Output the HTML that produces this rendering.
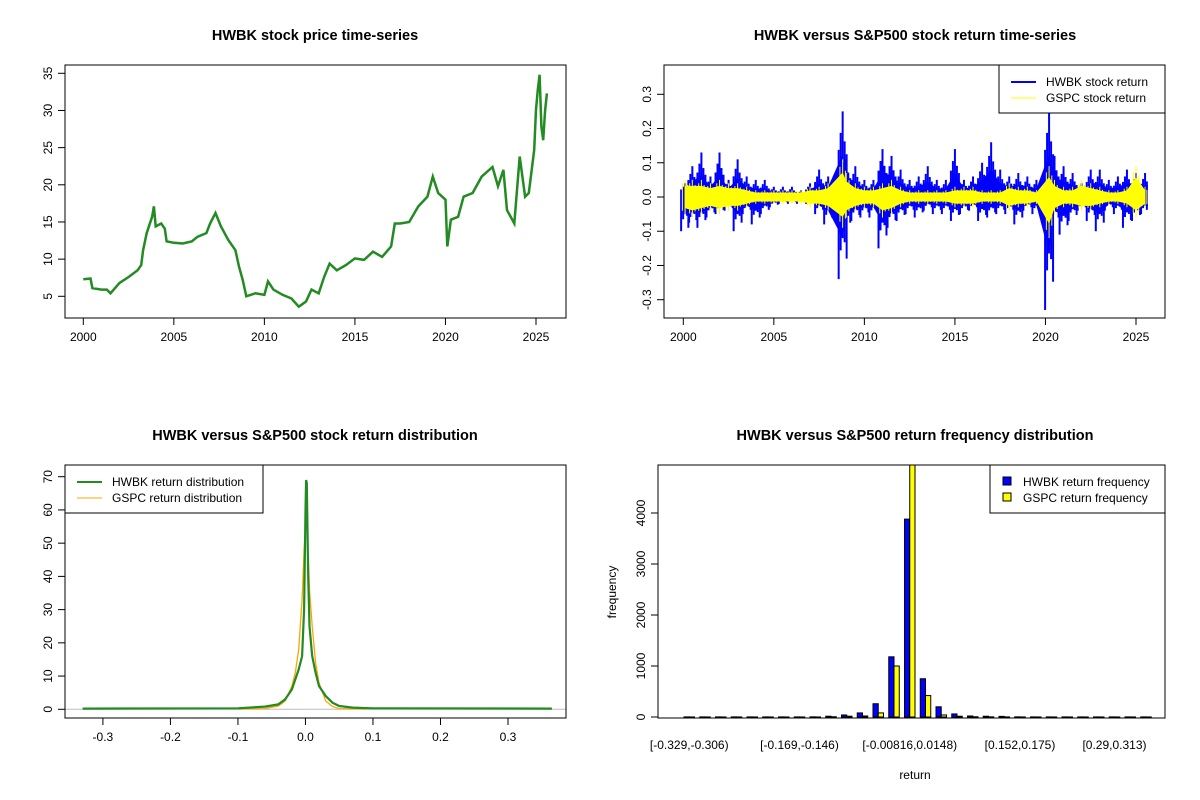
<!DOCTYPE html>
<html><head><meta charset="utf-8"><style>
html,body{margin:0;padding:0;background:#fff;}
svg{display:block;font-family:"Liberation Sans",Arial,sans-serif;}
</style></head><body>
<svg id="s" width="1200" height="800" viewBox="0 0 1200 800" xmlns="http://www.w3.org/2000/svg"></svg>
<script>
// ---------- data ----------
const priceYears=[2000,2000.4,2000.5,2001,2001.3,2001.5,2002,2002.5,2003,2003.2,2003.3,2003.5,2003.8,2003.9,2004,2004.3,2004.5,2004.6,2005,2005.5,2006,2006.3,2006.8,2007,2007.3,2007.6,2008,2008.4,2008.6,2008.8,2009,2009.5,2010,2010.2,2010.5,2011,2011.5,2011.9,2012.3,2012.6,2013,2013.3,2013.6,2014,2014.5,2015,2015.5,2016,2016.5,2017,2017.2,2017.5,2018,2018.5,2019,2019.3,2019.6,2020,2020.1,2020.3,2020.7,2021,2021.5,2022,2022.6,2022.9,2023.2,2023.4,2023.8,2024.1,2024.4,2024.6,2024.9,2025.0,2025.1,2025.2,2025.3,2025.4,2025.5,2025.6];
const priceValues=[7.3,7.4,6.1,5.9,5.9,5.4,6.8,7.6,8.5,9.2,11.2,13.5,15.7,17.1,14.4,14.8,14.1,12.4,12.2,12.1,12.4,13,13.5,14.8,16.2,14.4,12.6,11.2,9.0,7.2,5.0,5.4,5.2,7.0,5.9,5.2,4.7,3.6,4.3,5.9,5.4,7.6,9.4,8.5,9.2,10.1,9.9,11,10.3,11.7,14.8,14.8,15,17.1,18.4,21.1,18.9,18,11.7,15.3,15.7,18.4,18.9,21.1,22.4,19.8,22.0,16.6,14.8,23.8,18.4,18.9,24.7,30.1,32.8,34.8,27.8,26,30,32.3];
const retTimes=[2000.1,2000.5,2001,2001.5,2002,2002.5,2003,2003.5,2004,2004.5,2005,2005.5,2006,2006.5,2007,2007.5,2008,2008.8,2009,2009.5,2010,2010.5,2011,2011.5,2012,2012.5,2013,2013.5,2014,2014.5,2015,2015.5,2016,2016.5,2017,2017.5,2018,2018.5,2019,2019.5,2020.2,2020.5,2021,2021.5,2022,2022.5,2023,2023.5,2024,2024.5,2025,2025.5];
const hwbkUp=[0.04,0.09,0.13,0.06,0.13,0.05,0.11,0.06,0.05,0.05,0.03,0.03,0.03,0.02,0.04,0.08,0.06,0.25,0.11,0.09,0.05,0.05,0.14,0.12,0.08,0.05,0.06,0.09,0.05,0.05,0.14,0.05,0.06,0.1,0.16,0.08,0.06,0.07,0.06,0.05,0.25,0.12,0.09,0.07,0.04,0.08,0.08,0.05,0.06,0.08,0.07,0.07];
const hwbkDn=[-0.1,-0.09,-0.09,-0.06,-0.05,-0.04,-0.1,-0.05,-0.08,-0.05,-0.03,-0.02,-0.02,-0.02,-0.02,-0.05,-0.08,-0.24,-0.1,-0.07,-0.06,-0.06,-0.15,-0.09,-0.07,-0.05,-0.06,-0.04,-0.05,-0.05,-0.07,-0.05,-0.04,-0.07,-0.06,-0.05,-0.05,-0.08,-0.04,-0.05,-0.33,-0.08,-0.11,-0.07,-0.04,-0.07,-0.1,-0.04,-0.05,-0.09,-0.07,-0.05];
const gspcUp=[0.05,0.05,0.05,0.04,0.05,0.04,0.04,0.03,0.02,0.02,0.02,0.02,0.02,0.02,0.03,0.03,0.04,0.11,0.07,0.04,0.03,0.03,0.04,0.05,0.03,0.02,0.02,0.02,0.02,0.02,0.03,0.03,0.03,0.02,0.02,0.02,0.04,0.03,0.03,0.02,0.09,0.05,0.03,0.03,0.05,0.04,0.03,0.02,0.02,0.03,0.09,0.03];
const gspcDn=[-0.05,-0.06,-0.05,-0.04,-0.05,-0.04,-0.04,-0.03,-0.02,-0.02,-0.02,-0.02,-0.02,-0.02,-0.03,-0.03,-0.04,-0.09,-0.06,-0.04,-0.03,-0.03,-0.06,-0.05,-0.03,-0.02,-0.02,-0.02,-0.02,-0.02,-0.03,-0.03,-0.03,-0.02,-0.02,-0.02,-0.04,-0.03,-0.03,-0.02,-0.12,-0.05,-0.03,-0.03,-0.04,-0.04,-0.03,-0.02,-0.02,-0.03,-0.06,-0.03];
const hwbkDensX=[-0.33,-0.1,-0.06,-0.04,-0.03,-0.02,-0.015,-0.01,-0.005,-0.002,0,0.001,0.002,0.004,0.006,0.01,0.015,0.02,0.03,0.04,0.05,0.07,0.1,0.365];
const hwbkDensY=[0.2,0.3,0.8,1.5,3,6,9,12,16,30,60,69,68,40,25,16,11,7,4,2,1,0.5,0.3,0.2];
const gspcDensX=[-0.1,-0.06,-0.04,-0.03,-0.02,-0.015,-0.01,-0.005,-0.002,0,0.001,0.003,0.006,0.01,0.015,0.02,0.03,0.04,0.05,0.09];
const gspcDensY=[0.1,0.2,1,2.5,7,11,18,33,48,55,57,52,36,25,14,8,2.5,0.8,0.2,0.1];
const histLabels=["[-0.329,-0.306)","[-0.169,-0.146)","[-0.00816,0.0148)","[0.152,0.175)","[0.29,0.313)"];
const histLabelIdx=[0,7,14,21,27];
const hwbkFreq=[2,2,2,2,2,2,2,2,3,15,40,80,260,1180,3880,750,200,60,20,15,12,3,2,2,2,2,2,2,2,2];
const gspcFreq=[1,1,1,1,1,1,1,1,1,5,15,20,80,1000,5200,420,40,15,5,3,2,1,1,1,1,1,1,1,1,1];

// ---------- helpers ----------
const NS="http://www.w3.org/2000/svg";
const svg=document.getElementById('s');
function mk(tag,attrs,parent,text){const e=document.createElementNS(NS,tag);for(const k in attrs)e.setAttribute(k,attrs[k]);if(text!==undefined)e.textContent=text;(parent||svg).appendChild(e);return e;}
function lin(d0,d1,r0,r1){return v=>r0+(v-d0)*(r1-r0)/(d1-d0);}
function frame(x0,y0,x1,y1,name){const r=mk('rect',{x:x0,y:y0,width:x1-x0,height:y1-y0,fill:'none',stroke:'#000','stroke-width':1});}
function title(x,y,t,name){const e=mk('text',{x:x,y:y,'text-anchor':'middle','font-size':'14.5','font-weight':'bold'},svg,t);}
function xTicks(vals,labels,sx,yb,name){const g=mk('g',{});
 mk('line',{x1:sx(vals[0]),x2:sx(vals[vals.length-1]),y1:yb,y2:yb,stroke:'#000'},g);
 vals.forEach((v,i)=>{mk('line',{x1:sx(v),x2:sx(v),y1:yb,y2:yb+7,stroke:'#000'},g);mk('text',{x:sx(v),y:yb+23,'text-anchor':'middle','font-size':'12'},g,labels[i]);});}
function yTicks(vals,labels,sy,xl,name){const g=mk('g',{});
 mk('line',{x1:xl,x2:xl,y1:sy(vals[0]),y2:sy(vals[vals.length-1]),stroke:'#000'},g);
 vals.forEach((v,i)=>{const y=sy(v);mk('line',{x1:xl,x2:xl-7,y1:y,y2:y,stroke:'#000'},g);mk('text',{x:xl-13,y:y,'text-anchor':'middle','font-size':'12',transform:`rotate(-90 ${xl-13} ${y})`},g,labels[i]);});}

// ---------- panel 1: price ----------
{
 const sx=lin(2000,2025,83.3,536), sy=lin(5,35,296.3,73.3);
 title(315,40,'HWBK stock price time-series','price-title');
 const d=priceYears.map((t,i)=>(i?'L':'M')+sx(t).toFixed(1)+' '+sy(priceValues[i]).toFixed(1)).join(' ');
 const p=mk('path',{d:d,fill:'none',stroke:'#228B22','stroke-width':2.5,'stroke-linejoin':'miter'});
 
 frame(65,65,566,318,'price-plot-frame');
 xTicks([2000,2005,2010,2015,2020,2025],['2000','2005','2010','2015','2020','2025'],sx,318,'price-x-axis');
 yTicks([5,10,15,20,25,30,35],['5','10','15','20','25','30','35'],sy,65,'price-y-axis');
}
// ---------- panel 2: returns ----------
{
 const sx=lin(2000,2025,683.3,1136), sy=lin(0,0.3,197,94.3);
 title(915,40,'HWBK versus S&P500 stock return time-series','returns-title');
 const gH=mk('g',{});
 const gG=mk('g',{});
 const fr=[-0.22,-0.11,0,0.11,0.22];
 const mult=[0.55,0.75,1,0.65,0.5];
 retTimes.forEach((t,i)=>{
  fr.forEach((f,j)=>{const x=sx(Math.min(2025.6,t+f));
   mk('line',{x1:x,x2:x,y1:sy(hwbkUp[i]*mult[j]),y2:sy(hwbkDn[i]*mult[(j+2)%5]),stroke:'#0000FF','stroke-width':2},gH);});
 });
 let up='',dn='';
 retTimes.forEach((t,i)=>{const x=sx(Math.min(2025.6,t));up+=(i?'L':'M')+x+' '+sy(hwbkUp[i]*0.5);});
 for(let i=retTimes.length-1;i>=0;i--){dn+='L'+sx(Math.min(2025.6,retTimes[i]))+' '+sy(hwbkDn[i]*0.5);}
 mk('path',{d:up+dn+'Z',fill:'#0000FF'},gH);
 let gu='',gd='';
 retTimes.forEach((t,i)=>{const x=sx(Math.min(2025.6,t));gu+=(i?'L':'M')+x+' '+sy(gspcUp[i]*0.65);});
 for(let i=retTimes.length-1;i>=0;i--){gd+='L'+sx(Math.min(2025.6,retTimes[i]))+' '+sy(gspcDn[i]*0.65);}
 mk('path',{d:gu+gd+'Z',fill:'#FFFF00'},gG);
 retTimes.forEach((t,i)=>{[-0.15,0,0.15].forEach((f,j)=>{const x=sx(Math.min(2025.6,t+f));const m=j==1?1:(j==0?0.8:0.7);
   mk('line',{x1:x,x2:x,y1:sy(gspcUp[i]*m),y2:sy(gspcDn[i]*m),stroke:'#FFFF00','stroke-width':1},gG);});});
 frame(664,65,1165,318,'returns-plot-frame');
 xTicks([2000,2005,2010,2015,2020,2025],['2000','2005','2010','2015','2020','2025'],sx,318,'returns-x-axis');
 yTicks([-0.3,-0.2,-0.1,0,0.1,0.2,0.3],['-0.3','-0.2','-0.1','0.0','0.1','0.2','0.3'],sy,664,'returns-y-axis');
 const lg=mk('g',{});
 mk('rect',{x:999,y:65,width:166,height:48,fill:'#fff',stroke:'#000'},lg);
 mk('line',{x1:1011,x2:1036,y1:82,y2:82,stroke:'#0000FF','stroke-width':2},lg);
 mk('line',{x1:1011,x2:1036,y1:98,y2:98,stroke:'#FFFF00','stroke-width':1},lg);
 mk('text',{x:1046,y:86,'font-size':'12'},lg,'HWBK stock return');
 mk('text',{x:1046,y:102,'font-size':'12'},lg,'GSPC stock return');
}
// ---------- panel 3: density ----------
{
 const sx=lin(-0.3,0.3,102.9,508), sy=lin(0,70,709.3,476.7);
 title(315,440,'HWBK versus S&P500 stock return distribution','density-title');
 const z=mk('line',{x1:65,x2:566,y1:sy(0),y2:sy(0),stroke:'#BEBEBE'});
 const dh=hwbkDensX.map((x,i)=>(i?'L':'M')+sx(x).toFixed(1)+' '+sy(hwbkDensY[i]).toFixed(1)).join(' ');
 const dg=gspcDensX.map((x,i)=>(i?'L':'M')+sx(x).toFixed(1)+' '+sy(gspcDensY[i]).toFixed(1)).join(' ');
 const pg=mk('path',{d:dg,fill:'none',stroke:'#FFA500','stroke-width':1.3});
 const ph=mk('path',{d:dh,fill:'none',stroke:'#228B22','stroke-width':2.2});
 frame(65,465,566,718,'density-plot-frame');
 xTicks([-0.3,-0.2,-0.1,0,0.1,0.2,0.3],['-0.3','-0.2','-0.1','0.0','0.1','0.2','0.3'],sx,718,'density-x-axis');
 yTicks([0,10,20,30,40,50,60,70],['0','10','20','30','40','50','60','70'],sy,65,'density-y-axis');
 const lg=mk('g',{});
 mk('rect',{x:65,y:465,width:198,height:48,fill:'#fff',stroke:'#000'},lg);
 mk('line',{x1:77,x2:102,y1:482,y2:482,stroke:'#228B22','stroke-width':2},lg);
 mk('line',{x1:77,x2:102,y1:498,y2:498,stroke:'#FFA500','stroke-width':1},lg);
 mk('text',{x:112,y:486,'font-size':'12'},lg,'HWBK return distribution');
 mk('text',{x:112,y:502,'font-size':'12'},lg,'GSPC return distribution');
}
// ---------- panel 4: histogram ----------
{
 const x0=684, pitch=15.75, bw=pitch/3;
 const sy=lin(0,4000,717,513);
 title(915,440,'HWBK versus S&P500 return frequency distribution','histogram-title');
 const g=mk('g',{});
 const cy=v=>Math.max(465,sy(v));
 hwbkFreq.forEach((v,i)=>{const x=x0+i*pitch;
  const b=mk('rect',{x:x,y:cy(v),width:bw,height:sy(0)-cy(v),fill:'#0000FF',stroke:'#000','stroke-width':1},g);
  
  const w=gspcFreq[i];
  const c=mk('rect',{x:x+bw,y:cy(w),width:bw,height:sy(0)-cy(w),fill:'#FFFF00',stroke:'#000','stroke-width':1},g);
  
 });
 frame(658,465,1165,718,'histogram-plot-frame');
 const xa=mk('g',{});
 histLabelIdx.forEach((k,i)=>{mk('text',{x:x0+k*pitch+bw,y:749,'text-anchor':'middle','font-size':'12'},xa,histLabels[i]);});
 yTicks([0,1000,2000,3000,4000],['0','1000','2000','3000','4000'],sy,658,'histogram-y-axis');
 const yt=mk('text',{x:616,y:592,'text-anchor':'middle','font-size':'12',transform:'rotate(-90 616 592)'},svg,'frequency');
 
 const xt=mk('text',{x:915,y:779,'text-anchor':'middle','font-size':'12'},svg,'return');
 
 const lg=mk('g',{});
 mk('rect',{x:990,y:465,width:175,height:48,fill:'#fff',stroke:'#000'},lg);
 mk('rect',{x:1003,y:477,width:8,height:8,fill:'#0000FF',stroke:'#000'},lg);
 mk('rect',{x:1003,y:493,width:8,height:8,fill:'#FFFF00',stroke:'#000'},lg);
 mk('text',{x:1023,y:486,'font-size':'12'},lg,'HWBK return frequency');
 mk('text',{x:1023,y:502,'font-size':'12'},lg,'GSPC return frequency');
}
</script>
</body></html>
